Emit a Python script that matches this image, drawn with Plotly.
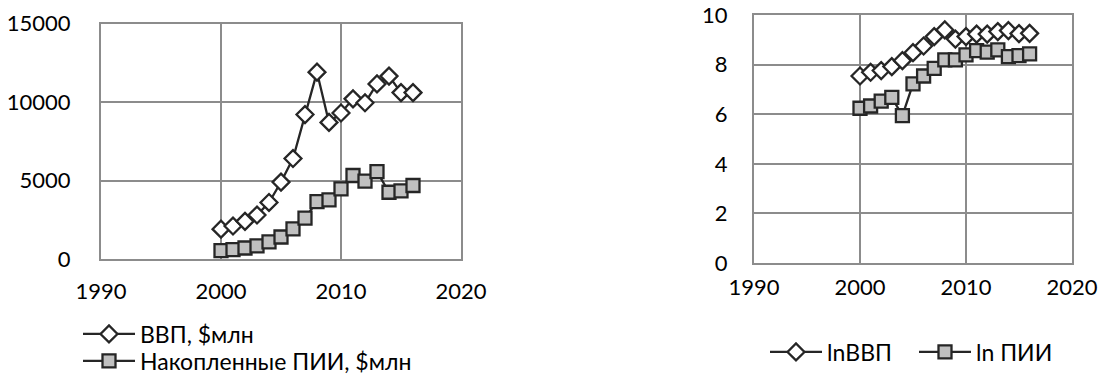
import plotly.graph_objects as go

# Годы наблюдений
years = list(range(2000, 2017))

# ВВП и накопленные ПИИ, $млн
gdp = [1900, 2100, 2400, 2800, 3600, 4900, 6400, 9200, 11900,
       8700, 9300, 10200, 9950, 11150, 11650, 10600, 10600]
fdi = [530, 600, 700, 830, 1085, 1400, 1915, 2600, 3660,
       3770, 4470, 5320, 4960, 5570, 4250, 4340, 4680]

# Натуральные логарифмы
ln_gdp = [7.54, 7.69, 7.76, 7.92, 8.16, 8.48, 8.75, 9.13, 9.40,
          9.03, 9.13, 9.23, 9.23, 9.33, 9.37, 9.25, 9.26]
ln_fdi = [6.24, 6.33, 6.53, 6.68, 5.94, 7.22, 7.54, 7.85, 8.19,
          8.19, 8.39, 8.56, 8.50, 8.59, 8.32, 8.36, 8.43]

x_ticks = [1990, 2000, 2010, 2020]
left_y_ticks = [0, 5000, 10000, 15000]
right_y_ticks = [0, 2, 4, 6, 8, 10]

W, H = 1105, 374
LINE = "#262626"
GRID = "#8c8c8c"
FONT = dict(family="Lato", size=22, color="#000000")
LEG_FONT = dict(family="Lato", size=23, color="#000000")

diamond = dict(symbol="diamond", size=13, color="#ffffff",
               line=dict(color=LINE, width=2.3))
square = dict(symbol="square", size=13, color="#c0c0c0",
              line=dict(color=LINE, width=2.3))

fig = go.Figure()

fig.add_trace(go.Scatter(x=years, y=gdp, name="ВВП, $млн", mode="lines+markers",
                         line=dict(color=LINE, width=2.3), marker=diamond,
                         xaxis="x", yaxis="y", legend="legend",
                         showlegend=True))
fig.add_trace(go.Scatter(x=years, y=fdi, name="Накопленные ПИИ, $млн",
                         mode="lines+markers",
                         line=dict(color=LINE, width=2.3), marker=square,
                         xaxis="x", yaxis="y", legend="legend3",
                         showlegend=True))
fig.add_trace(go.Scatter(x=years, y=ln_gdp, name="lnВВП", mode="lines+markers",
                         line=dict(color=LINE, width=2.3), marker=diamond,
                         xaxis="x2", yaxis="y2", legend="legend2",
                         showlegend=True))
fig.add_trace(go.Scatter(x=years, y=ln_fdi, name="ln ПИИ", mode="lines+markers",
                         line=dict(color=LINE, width=2.3), marker=square,
                         xaxis="x2", yaxis="y2", legend="legend2",
                         showlegend=True))

# Невидимые риски задают отступ подписей от осей
axis_common = dict(showgrid=True, gridcolor=GRID, gridwidth=1.5,
                   showline=True, linecolor=GRID, linewidth=2, mirror=True,
                   zeroline=False, ticks="outside", tickcolor="rgba(0,0,0,0)",
                   tickfont=FONT, automargin=False)

legend_common = dict(font=LEG_FONT, bgcolor="rgba(0,0,0,0)", itemwidth=52,
                     visible=True)

fig.update_layout(
    width=W, height=H,
    margin=dict(l=0, r=0, t=0, b=0, autoexpand=False),
    paper_bgcolor="white", plot_bgcolor="white",
    font=FONT,
    showlegend=True,
    xaxis=dict(domain=[101 / W, 461 / W], range=[1990, 2020],
               tickvals=x_ticks, ticktext=[str(v) for v in x_ticks],
               anchor="y", ticklen=12, **axis_common),
    yaxis=dict(domain=[1 - 259 / H, 1 - 23.5 / H], range=[0, 15000],
               tickvals=left_y_ticks, ticktext=[str(v) for v in left_y_ticks],
               anchor="x", ticklen=24, **axis_common),
    xaxis2=dict(domain=[754 / W, 1072 / W], range=[1990, 2020],
                tickvals=x_ticks, ticktext=[str(v) for v in x_ticks],
                anchor="y2", ticklen=4, **axis_common),
    yaxis2=dict(domain=[1 - 263 / H, 1 - 15 / H], range=[0, 10],
                tickvals=right_y_ticks, ticktext=[str(v) for v in right_y_ticks],
                anchor="x2", ticklen=20, **axis_common),
    legend=dict(x=78 / W, y=1 - 334 / H, xanchor="left", yanchor="middle",
                orientation="v", **legend_common),
    legend3=dict(x=78 / W, y=1 - 361 / H, xanchor="left", yanchor="middle",
                 orientation="v", **legend_common),
    legend2=dict(x=765 / W, y=1 - 352 / H, xanchor="left", yanchor="middle",
                 orientation="h", entrywidth=82, entrywidthmode="pixels",
                 **legend_common),
)

fig.write_html("out.html")
